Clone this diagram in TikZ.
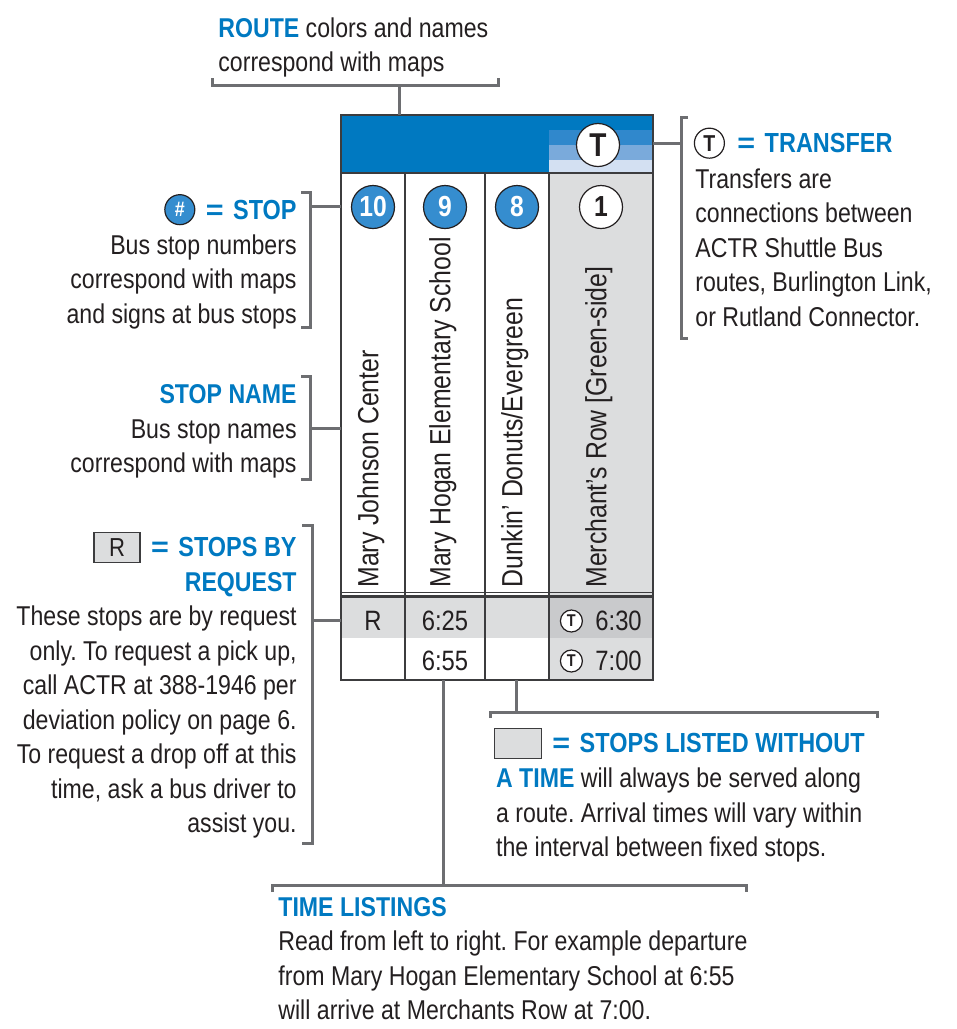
\documentclass[tikz,border=0pt]{standalone}
\usepackage{fontspec}
\setmainfont{Liberation Sans}[FakeStretch=0.85]
\usetikzlibrary{positioning}
\definecolor{actrblue}{HTML}{0079C1}
\definecolor{stopblue}{HTML}{358DCF}
\definecolor{stripeA}{HTML}{3088CC}
\definecolor{stripeB}{HTML}{7AAADB}
\definecolor{stripeC}{HTML}{D3E0F2}
\definecolor{cellgray}{HTML}{DCDDDE}
\definecolor{darkcell}{HTML}{C9CACC}
\definecolor{ink}{HTML}{231F20}
\definecolor{brkgray}{HTML}{6D6E71}
\definecolor{tblline}{HTML}{3C3C3E}
\newcommand{\blueword}[1]{{\bfseries\color{actrblue}#1}}
\newcommand{\eqmark}{\scalebox{1.3}[1]{=}\hspace{1.5pt}\ }
\frenchspacing

\begin{document}
\begin{tikzpicture}[x=0.5pt,y=-0.5pt,
    txt/.style={inner sep=0pt,text=ink,font=\fontsize{13.6}{17.25}\selectfont},
    hd/.style={inner sep=0pt,text=actrblue,font=\fontsize{13.8}{17.25}\selectfont\bfseries},
    brk/.style={draw=brkgray,line width=1.5pt},
    grid/.style={draw=tblline,line width=0.9pt},
    stopdot/.style={circle,draw=ink,line width=0.6pt,fill=stopblue,text=white,inner sep=0pt,minimum size=21.5pt,font=\fontsize{14.5}{14.5}\selectfont\bfseries},
    tdot/.style={circle,draw=ink,line width=0.6pt,fill=white,text=ink,inner sep=0pt},
    stopname/.style={inner sep=0pt,text=ink,rotate=90,anchor=mid west,font=\fontsize{14.6}{16}\selectfont},
    timecell/.style={inner sep=0pt,text=ink,font=\fontsize{14}{16}\selectfont}]
    \useasboundingbox (0,0) rectangle (957,1029);
    \coordinate (tblNW) at (341,115);
    \coordinate (tblSE) at (653,680);
    \fill[actrblue] (341,115) rectangle (653,173);
    \fill[stripeA] (549,130) rectangle (653,145);
    \fill[stripeB] (549,145) rectangle (653,160);
    \fill[stripeC] (549,160) rectangle (653,173);
    \fill[cellgray] (549,173) rectangle (653,597);
    \fill[cellgray] (341,597) rectangle (549,638);
    \fill[darkcell] (549,597) rectangle (653,638);
    \fill[cellgray] (549,638) rectangle (653,680);
    \draw[grid] (tblNW) rectangle (tblSE);
    \draw[grid,line width=1.2pt] (341,173) -- (653,173);
    \foreach \x in {405,485,549} \draw[grid] (\x,173) -- (\x,680);
    \draw[tblline,line width=0.5pt] (341,592) -- (653,592);
    \draw[tblline,line width=1.6pt] (341,596.5) -- (653,596.5);
    \node[tdot,minimum size=21.5pt,font=\fontsize{16.5}{16.5}\selectfont\bfseries] (thead) at (598,145) {T};
    \node[stopdot] (s10) at (373,207) {10};
    \node[stopdot] (s9) at (445,207) {9};
    \node[stopdot] (s8) at (517,207) {8};
    \node[stopdot,fill=white,text=ink] (s1) at (601,207) {1};
    \node[stopname] (n10) at (373,588) {Mary Johnson Center};
    \node[stopname] (n9) at (445,588) {Mary Hogan Elementary School};
    \node[stopname] (n8) at (517,588) {Dunkin’ Donuts/Evergreen};
    \node[stopname] (n1) at (601,588) {Merchant’s Row [Green-side]};
    \node[timecell] (r1c1) at (373,621) {R};
    \node[timecell] (r1c2) at (445,621) {6:25};
    \node[timecell] (r2c2) at (445,661) {6:55};
    \node[timecell,anchor=west] (r1c4) at (595,621) {6:30};
    \node[timecell,anchor=west] (r2c4) at (595,661) {7:00};
    \node[tdot,minimum size=11pt,font=\fontsize{8.5}{8.5}\selectfont\bfseries,left=6pt of r1c4] (x1) {T};
    \node[tdot,minimum size=11pt,font=\fontsize{8.5}{8.5}\selectfont\bfseries,left=6pt of r2c4] (x2) {T};
    \node[txt,anchor=north west,align=left] (routetext) at (218,17) {\blueword{ROUTE} colors and names\\correspond with maps};
    \node[hd,anchor=north east] (stoptitle) at (297,199.5) {\eqmark STOP};
    \node[stopdot,minimum size=15pt,font=\fontsize{10.5}{10.5}\selectfont\bfseries,left=5pt of stoptitle] (stopsym) {\#};
    \node[txt,anchor=north east,align=right] (stoptext) at (297,234) {Bus stop numbers\\correspond with maps\\and signs at bus stops};
    \node[txt,anchor=north east,align=right] (nametext) at (297,384.5) {\blueword{STOP NAME}\\Bus stop names\\correspond with maps};
    \node[hd,anchor=north east] (reqtitle) at (297,537) {\eqmark STOPS BY};
    \node[draw=tblline,fill=cellgray,line width=0.6pt,minimum width=23pt,minimum height=15pt,inner sep=0pt,text=ink,font=\fontsize{13}{13}\selectfont,left=5pt of reqtitle] (reqsym) {R};
    \node[txt,anchor=north east,align=right] (reqtext) at (297,572) {\blueword{REQUEST}\\These stops are by request\\only. To request a pick up,\\call ACTR at 388-1946 per\\deviation policy on page 6.\\To request a drop off at this\\time, ask a bus driver to\\assist you.};
    \node[hd,anchor=north west] (transfertitle) at (737,133) {\eqmark TRANSFER};
    \node[tdot,minimum size=15pt,font=\fontsize{11.5}{11.5}\selectfont\bfseries,left=6pt of transfertitle] (transfersym) {T};
    \node[txt,anchor=north west,align=left] (transfertext) at (695,168) {Transfers are\\connections between\\ACTR Shuttle Bus\\routes, Burlington Link,\\or Rutland Connector.};
    \node[hd,anchor=north west] (gaptitle) at (552,733) {\eqmark STOPS LISTED WITHOUT};
    \node[draw=tblline,fill=cellgray,line width=0.6pt,minimum width=23.5pt,minimum height=15pt,inner sep=0pt,left=5pt of gaptitle] (gapsym) {};
    \node[txt,anchor=north west,align=left] (gaptext) at (495.7,767.5) {\blueword{A TIME} will always be served along\\a route. Arrival times will vary within\\the interval between fixed stops.};
    \node[txt,anchor=north west,align=left] (timetext) at (278,897) {\blueword{TIME LISTINGS}\\Read from left to right. For example departure\\from Mary Hogan Elementary School at 6:55\\will arrive at Merchants Row at 7:00.};
    \draw[brk] (212,78) -- (212,85) -- (498,85) -- (498,78);
    \coordinate (routestem) at (399,85);
    \draw[brk] (routestem) -- (routestem |- tblNW);
    \draw[brk] (301,192) -| (310,327) -- (301,327);
    \coordinate (stopstem) at (310,206);
    \draw[brk] (stopstem) -- (stopstem -| tblNW);
    \draw[brk] (301,376) -| (310,479) -- (301,479);
    \coordinate (namestem) at (310,428);
    \draw[brk] (namestem) -- (namestem -| tblNW);
    \draw[brk] (302,525) -| (312,843) -- (302,843);
    \coordinate (reqstem) at (312,620);
    \draw[brk] (reqstem) -- (reqstem -| tblNW);
    \draw[brk] (688,117) -| (681,338) -- (688,338);
    \coordinate (transferstem) at (681,143);
    \draw[brk] (transferstem) -- (transferstem -| tblSE);
    \draw[brk] (490,718) |- (877,712) -- (877,718);
    \coordinate (gapstem) at (516,712);
    \draw[brk] (gapstem) -- (gapstem |- tblSE);
    \draw[brk] (272,892) |- (746,885) -- (746,892);
    \coordinate (timestem) at (443,885);
    \draw[brk] (timestem) -- (timestem |- tblSE);
\end{tikzpicture}
\end{document}
